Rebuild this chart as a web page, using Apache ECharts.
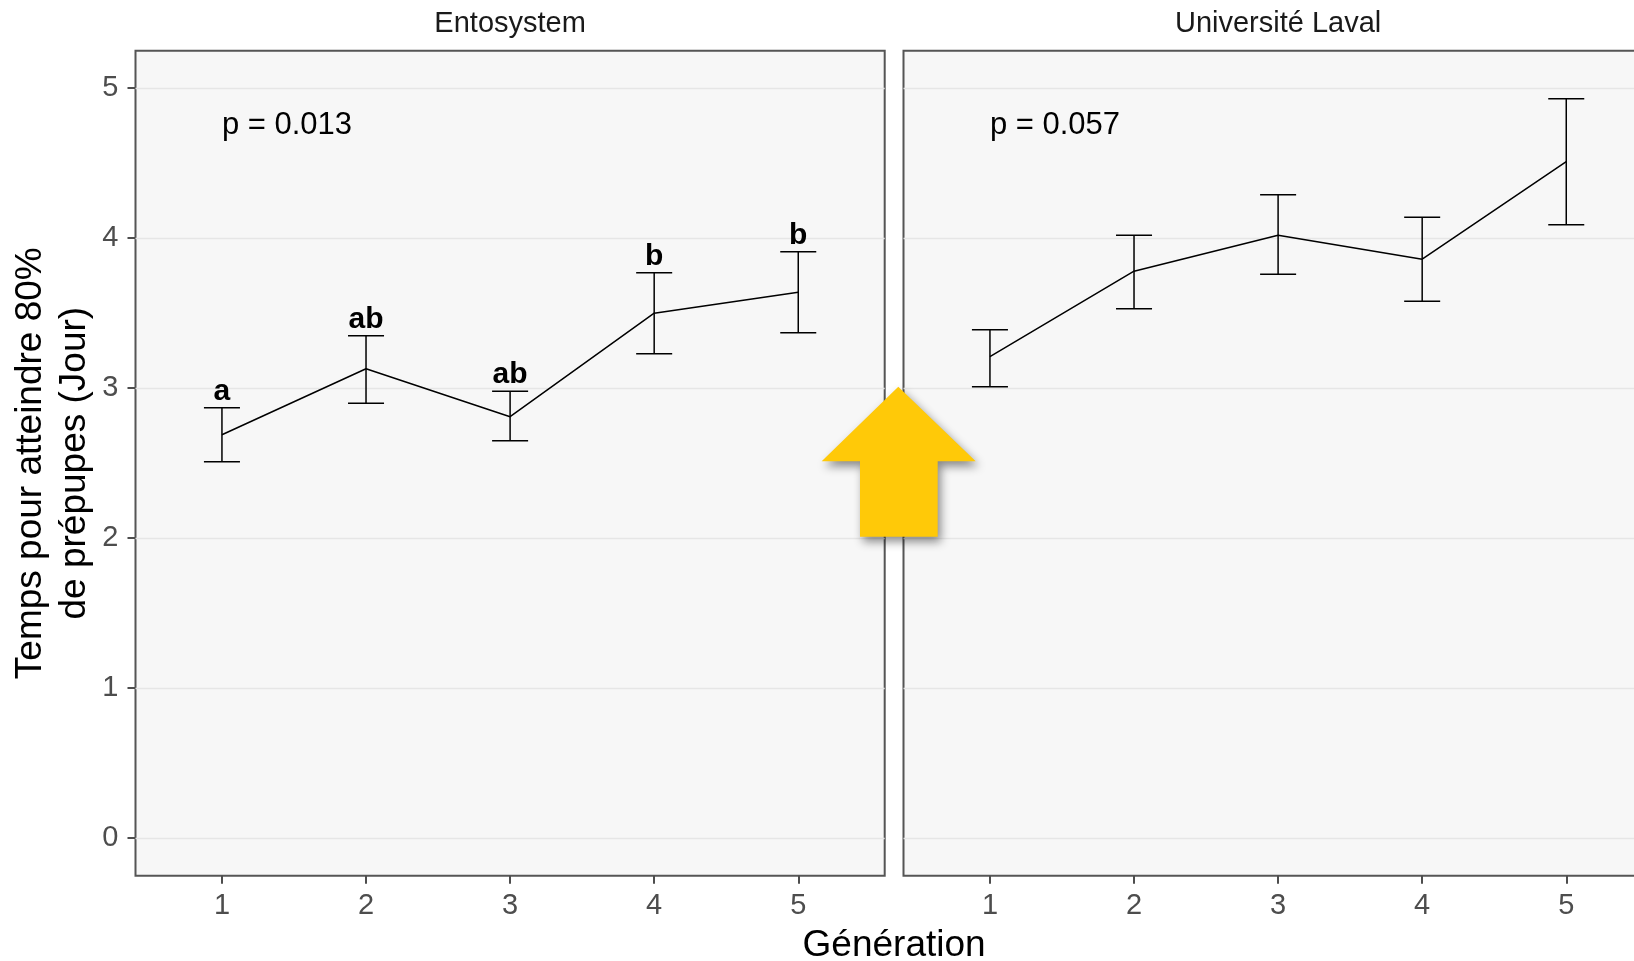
<!DOCTYPE html>
<html>
<head>
<meta charset="utf-8">
<script src="https://cdn.jsdelivr.net/npm/echarts@6/dist/echarts.min.js"></script>
<style>
  html, body { margin: 0; padding: 0; background: #fff; }
  #chart { width: 1634px; height: 961px; }
</style>
</head>
<body>
<div id="chart"></div>
<script>
// données
const generations = [1, 2, 3, 4, 5];
const yTicks = [0, 1, 2, 3, 4, 5];

const entoMean = [2.69, 3.13, 2.81, 3.50, 3.64];
const entoLow  = [2.51, 2.90, 2.65, 3.23, 3.37];
const entoHigh = [2.87, 3.35, 2.98, 3.77, 3.91];
const entoLetters = ['a', 'ab', 'ab', 'b', 'b'];

const lavalMean = [3.21, 3.78, 4.02, 3.86, 4.51];
const lavalLow  = [3.01, 3.53, 3.76, 3.58, 4.09];
const lavalHigh = [3.39, 4.02, 4.29, 4.14, 4.93];

const panelNames = ['Entosystem', 'Université Laval'];
const pLabels = ['p = 0.013', 'p = 0.057'];
const pLabelPos = [1, 4.75];

const FONT = '"Liberation Sans", Arial, Helvetica, sans-serif';
const chart = echarts.init(document.getElementById('chart'));

const panelLeft = [135.5, 903.5];
const panelW = 749.2;
const panelTop = 50.7;
const panelH = 825;

function xAxisFor(i) {
  return {
    type: 'value', gridIndex: i, min: 0.4, max: 5.6,
    axisLine: { show: false, onZero: false },
    splitLine: { show: false },
    axisTick: { show: true, customValues: generations, length: 8, lineStyle: { color: '#4D4D4D', width: 2 } },
    axisLabel: { show: true, customValues: generations, fontSize: 29, fontFamily: FONT, color: '#4D4D4D', margin: 16 }
  };
}
function yAxisFor(i) {
  const withLabels = i === 0;
  return {
    type: 'value', gridIndex: i, min: -0.25, max: 5.25,
    axisLine: { show: false, onZero: false },
    splitLine: { show: false },
    axisTick: { show: withLabels, customValues: yTicks, length: 8, lineStyle: { color: '#4D4D4D', width: 2 } },
    axisLabel: { show: withLabels, customValues: yTicks, fontSize: 29, fontFamily: FONT, color: '#4D4D4D', margin: 17 }
  };
}

function errorBars(i, low, high) {
  return {
    type: 'custom', xAxisIndex: i, yAxisIndex: i, z: 3,
    encode: { x: 0, y: [1, 2] },
    data: generations.map((g, k) => [g, low[k], high[k]]),
    renderItem: function (params, api) {
      const x = api.value(0);
      const pLo = api.coord([x, api.value(1)]);
      const pHi = api.coord([x, api.value(2)]);
      const half = api.size([0.125, 0])[0];
      const st = { stroke: '#000', lineWidth: 1.5 };
      return {
        type: 'group',
        children: [
          { type: 'line', shape: { x1: pLo[0], y1: pLo[1], x2: pHi[0], y2: pHi[1] }, style: st },
          { type: 'line', shape: { x1: pHi[0] - half, y1: pHi[1], x2: pHi[0] + half, y2: pHi[1] }, style: st },
          { type: 'line', shape: { x1: pLo[0] - half, y1: pLo[1], x2: pLo[0] + half, y2: pLo[1] }, style: st }
        ]
      };
    }
  };
}

function meanLine(i, mean) {
  return {
    type: 'line', xAxisIndex: i, yAxisIndex: i, z: 3,
    data: generations.map((g, k) => [g, mean[k]]),
    symbol: 'none',
    lineStyle: { color: '#000', width: 1.5 }
  };
}

function pSeries(i) {
  return {
    type: 'scatter', xAxisIndex: i, yAxisIndex: i, z: 1,
    symbolSize: 0,
    itemStyle: { opacity: 1 },
    data: [pLabelPos],
    label: {
      show: true, position: 'right', distance: 0, opacity: 1,
      formatter: pLabels[i], fontSize: 31, fontFamily: FONT, color: '#000'
    },
    markLine: {
      z: 1, silent: true, symbol: ['none', 'none'], animation: false,
      label: { show: false },
      lineStyle: { color: '#E6E6E6', width: 1.3, type: 'solid' },
      data: yTicks.map(v => ({ yAxis: v }))
    }
  };
}

const option = {
  animation: false,
  grid: [0, 1].map(i => ({
    left: panelLeft[i], top: panelTop, width: panelW, height: panelH,
    outerBoundsMode: 'none', containLabel: false,
    show: true, backgroundColor: '#F7F7F7', borderColor: '#555555', borderWidth: 2
  })),
  xAxis: [xAxisFor(0), xAxisFor(1)],
  yAxis: [yAxisFor(0), yAxisFor(1)],
  series: [
    pSeries(0), pSeries(1),
    meanLine(0, entoMean), meanLine(1, lavalMean),
    errorBars(0, entoLow, entoHigh), errorBars(1, lavalLow, lavalHigh),
    {
      type: 'scatter', xAxisIndex: 0, yAxisIndex: 0, z: 4,
      symbolSize: 0,
      itemStyle: { opacity: 1 },
      data: generations.map((g, k) => [g, entoHigh[k]]),
      label: {
        show: true, position: 'top', distance: 1, opacity: 1,
        formatter: p => entoLetters[p.dataIndex],
        fontSize: 30, fontWeight: 'bold', fontFamily: FONT, color: '#000'
      }
    }
  ],
  graphic: [
    { type: 'text', x: panelLeft[0] + panelW / 2, y: 24,
      style: { text: panelNames[0], font: '29px ' + FONT, fill: '#1A1A1A', textAlign: 'center', textVerticalAlign: 'middle' } },
    { type: 'text', x: panelLeft[1] + panelW / 2, y: 24,
      style: { text: panelNames[1], font: '29px ' + FONT, fill: '#1A1A1A', textAlign: 'center', textVerticalAlign: 'middle' } },
    { type: 'text', x: (panelLeft[0] + panelLeft[1] + panelW) / 2, y: 946,
      style: { text: 'Génération', font: '37px ' + FONT, fill: '#000', textAlign: 'center', textVerticalAlign: 'middle' } },
    { type: 'text', x: 53, y: panelTop + panelH / 2, rotation: Math.PI / 2,
      style: { text: 'Temps pour atteindre 80%\nde prépupes (Jour)', font: '37px ' + FONT, lineHeight: 44,
               fill: '#000', textAlign: 'center', textVerticalAlign: 'middle' } },
    // flèche jaune ajoutée par-dessus la figure
    { type: 'polygon', z: 100,
      shape: { points: [[898.3, 386.7], [975.7, 461.3], [937.7, 461.3], [937.7, 536.7], [860, 536.7], [860, 461.3], [821.7, 461.3]] },
      style: { fill: '#FFC908', shadowBlur: 10, shadowColor: 'rgba(0,0,0,0.45)', shadowOffsetX: 3, shadowOffsetY: 5 } }
  ]
};

chart.setOption(option);
</script>
</body>
</html>
